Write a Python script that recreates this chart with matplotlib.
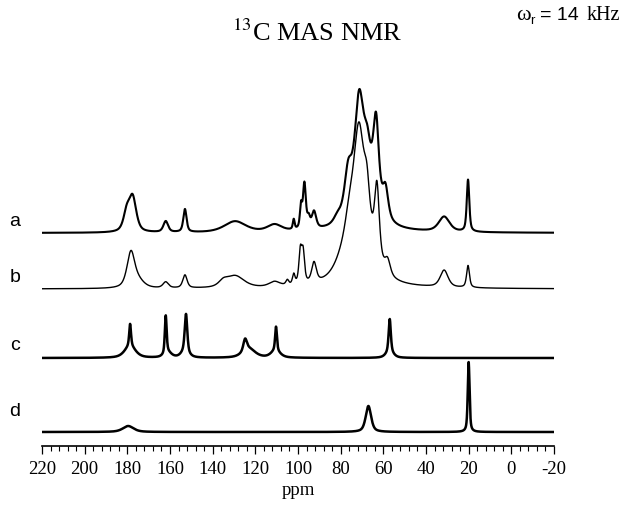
import numpy as np
import matplotlib

matplotlib.use("Agg")
import matplotlib.pyplot as plt
from matplotlib.ticker import MultipleLocator

plt.rcParams["mathtext.fontset"] = "stix"
plt.rcParams["axes.unicode_minus"] = False

# peak tables: position (ppm), height (px above baseline), half width (ppm)
a_ppm = [180.3, 177.5, 162.0, 153.0, 129.5, 111.0, 102.0, 98.6, 97.0, 95.0, 92.5,
         81.5, 76.5, 71.4, 69.0, 67.5, 63.4, 59.0, 31.5, 20.3]
a_height = [18, 34, 11, 23, 11, 7, 10, 22, 45, 10, 17,
            6, 38, 75, 70, 20, 76, 28, 15, 52]
a_width = [1.8, 2.0, 1.3, 0.9, 6.0, 4.0, 0.5, 0.6, 0.8, 0.8, 1.2,
           2.0, 2.0, 2.2, 6.0, 1.5, 1.5, 1.5, 3.0, 0.7]

b_ppm = [178.3, 174.5, 162.0, 153.0, 135.0, 129.5, 111.0, 105.0, 102.0, 98.9, 97.6, 92.5,
         76.0, 72.0, 71.4, 67.7, 63.0, 58.0, 31.5, 20.3]
b_height = [36, 6, 6, 13, 5, 12, 5, 5, 10, 32, 30, 20,
            12, 90, 72, 35, 70, 14, 17, 22]
b_width = [2.2, 3.0, 1.5, 1.2, 2.5, 5.0, 3.0, 0.8, 0.7, 0.8, 0.8, 1.3,
           2.0, 7.0, 2.5, 1.5, 1.3, 1.5, 2.2, 0.8]

c_ppm = [178.7, 178.7, 162.0, 161.0, 152.5, 153.0, 124.8, 123.0, 110.3, 110.5, 57.0, 57.0]
c_height = [22, 12, 38, 5, 38, 6, 12, 9, 24, 7, 33, 6]
c_width = [0.5, 3.0, 0.5, 2.0, 0.7, 2.0, 1.0, 3.5, 0.5, 2.5, 0.6, 2.0]

d_ppm = [179.6, 67.0, 20.0]
d_height = [6, 26, 70]
d_width = [3.0, 1.5, 0.5]

labels = ["a", "b", "c", "d"]
baselines = [213, 157, 88, 14]


def spectrum(x, pos, height, width, eta=0.6):
    y = np.zeros_like(x)
    for p, h, w in zip(pos, height, width):
        r = (x - p) / w
        y += h * (eta / (1 + r ** 2) + (1 - eta) * np.exp(-np.log(2) * r ** 2))
    return y


x = np.linspace(220, -20, 4001)
traces = [(a_ppm, a_height, a_width, 1.5),
          (b_ppm, b_height, b_width, 1.0),
          (c_ppm, c_height, c_width, 1.8),
          (d_ppm, d_height, d_width, 1.8)]

fig = plt.figure(figsize=(6.25, 5.12), dpi=100)
ax = fig.add_axes([42 / 625, 66 / 512, 512 / 625, 446 / 512])

for (pos, h, w, lw), base in zip(traces, baselines):
    ax.plot(x, base + spectrum(x, pos, h, w), color="black", lw=lw)

for lab, ypx in zip(labels, [222, 278, 345, 412]):
    fig.text(15 / 625, 1 - ypx / 512, lab, fontsize=14, family="Liberation Sans",
             ha="center", va="center")

ax.set_xlim(220, -20)
ax.set_ylim(0, 446)
for s in ["top", "left", "right"]:
    ax.spines[s].set_visible(False)
ax.spines["bottom"].set_linewidth(1.2)
ax.set_yticks([])
ax.xaxis.set_major_locator(MultipleLocator(20))
ax.xaxis.set_minor_locator(MultipleLocator(4))
ax.tick_params(axis="x", which="major", direction="out", length=6, width=0.9,
               labelsize=13.5, pad=5)
ax.tick_params(axis="x", which="minor", direction="out", length=3.5, width=0.8)
for t in ax.get_xticklabels():
    t.set_family("Liberation Serif")
ax.set_xlabel("ppm", family="Liberation Serif", fontsize=13.5, labelpad=3)

fig.text(317 / 625, 1 - 33 / 512, r"$^{13}$C MAS NMR", family="Liberation Serif",
         fontsize=19, ha="center", va="center")

# spinning rate note, laid out right to left: serif unit, sans "= 14", subscript r, omega
renderer = fig.canvas.get_renderer()
right = 620
for s, dy, gap, kw in [("kHz", 0, 8, dict(family="Liberation Serif", fontsize=14.5)),
                       ("= 14", 0, 5, dict(family="Liberation Sans", fontsize=14)),
                       ("r", 6, 0, dict(family="Liberation Sans", fontsize=9.5)),
                       ("ω", 0, 0, dict(family="Liberation Serif", fontsize=16))]:
    t = fig.text(right / 625, 1 - (15 + dy) / 512, s, ha="right", va="center", **kw)
    right = t.get_window_extent(renderer).x0 - gap

fig.savefig("out.png", dpi=100)
